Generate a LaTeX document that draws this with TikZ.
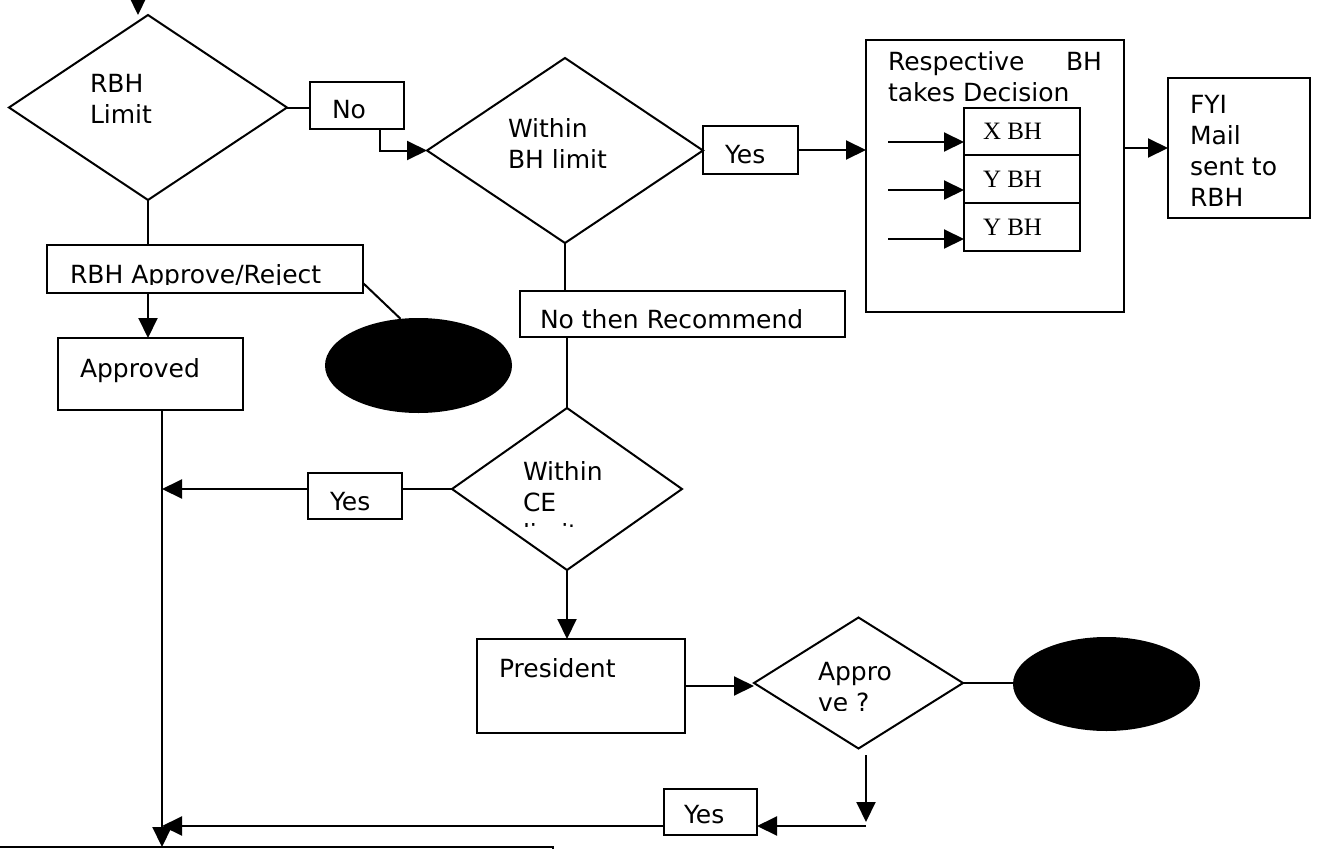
\documentclass[tikz,border=0pt]{standalone}
\usepackage{fontspec}
\setmainfont{DejaVu Sans}
\newfontfamily\serifF{Liberation Serif}
\usetikzlibrary{shapes.geometric,arrows.meta}
\begin{document}
\begin{tikzpicture}[x=1pt,y=-1pt,
  ln/.style={line width=2pt},
  arr/.style={line width=2pt,-{Triangle[length=20pt,width=19pt]}},
  box/.style={draw,line width=2pt,rectangle,inner sep=0pt,outer sep=0pt},
  dia/.style={draw,line width=2pt,diamond,inner sep=0pt,outer sep=0pt},
  blob/.style={ellipse,fill=black,inner sep=0pt,outer sep=0pt},
  txt/.style={anchor=base west,inner sep=0pt,outer sep=0pt,font=\fontsize{25}{31}\selectfont},
  stxt/.style={anchor=base west,inner sep=0pt,outer sep=0pt,font=\serifF\fontsize{25}{30}\selectfont}]
\useasboundingbox[fill=white] (0,0) rectangle (1318,849);

% shapes
\node[dia,minimum width=278pt,minimum height=185pt] (d1) at (148,107.5) {};
\node[box,minimum width=94pt,minimum height=47pt] (no) at (357,105.5) {};
\node[dia,minimum width=276pt,minimum height=185pt] (d2) at (565,150.5) {};
\node[box,minimum width=95pt,minimum height=48pt] (yes1) at (750.5,150) {};
\node[box,minimum width=258pt,minimum height=272pt] (big) at (995,176) {};
\node[box,minimum width=116pt,minimum height=47pt] (xbh) at (1022,131.5) {};
\node[box,minimum width=116pt,minimum height=48pt] (ybh1) at (1022,179) {};
\node[box,minimum width=116pt,minimum height=48pt] (ybh2) at (1022,227) {};
\node[box,minimum width=142pt,minimum height=140pt] (fyi) at (1239,148) {};
\node[box,minimum width=316pt,minimum height=48pt] (rbh) at (205,269) {};
\node[box,minimum width=185pt,minimum height=72pt] (appr) at (150.5,374) {};
\node[blob,minimum width=187pt,minimum height=95pt] (ell1) at (418.5,365.5) {};
\node[box,minimum width=325pt,minimum height=46pt] (rec) at (682.5,314) {};
\node[dia,minimum width=230pt,minimum height=162pt] (d3) at (567,489) {};
\node[box,minimum width=94pt,minimum height=46pt] (yes2) at (355,496) {};
\node[box,minimum width=208pt,minimum height=94pt] (pres) at (581,686) {};
\node[dia,minimum width=209pt,minimum height=131pt] (d4) at (858.5,683) {};
\node[blob,minimum width=187pt,minimum height=94pt] (ell2) at (1106.5,684) {};
\node[box,minimum width=93pt,minimum height=46pt] (yes3) at (710.5,812) {};
\node[box,minimum width=560pt,minimum height=30pt] (bot) at (273,862) {};

% texts
\node[txt] (t1) at (90,92) {\vtop{\hbox{RBH}\hbox{Limit}}};
\node[txt] (t2) at (332,118) {No};
\node[txt] (t3) at (508,137) {\vtop{\hbox{Within}\hbox{BH limit}}};
\node[txt] (t4) at (725,163) {Yes};
\node[txt] (t5) at (888,70) {\vtop{\hbox to 214pt{Respective\hfill BH}\hbox{takes Decision}}};
\node[stxt] (t6) at (983,139) {X BH};
\node[stxt] (t7) at (983,187) {Y BH};
\node[stxt] (t8) at (983,235) {Y BH};
\node[txt] (t9) at (1190,113) {\vtop{\hbox{FYI}\hbox{Mail}\hbox{sent to}\hbox{RBH}}};
\begin{scope}
  \clip (60,250) rectangle (350,284);
  \node[txt] (t10) at (70,283) {RBH Approve/Reject};
\end{scope}
\node[txt] (t11) at (80,377) {Approved};
\node[txt] (t12) at (540,328) {No then Recommend};
\begin{scope}
  \clip (500,440) rectangle (640,526);
  \node[txt] (t13) at (523,480) {\vtop{\hbox{Within}\hbox{CE}\hbox{limit}}};
\end{scope}
\node[txt] (t14) at (330,510) {Yes};
\node[txt] (t15) at (499,677) {President};
\begin{scope}
  \clip (800,640) rectangle (920,710);
  \node[txt] (t16) at (818,680) {\vtop{\hbox{Appro}\hbox{ve ?}}};
\end{scope}
\node[txt] (t17) at (684,823) {Yes};

% connectors
\coordinate (topsrc) at (138,-20);
\draw[arr] (topsrc) -- (topsrc |- d1.north);
\draw[ln] (d1.east) -- (d1.east -| no.west);
\draw[arr] ([xshift=23pt]no.south) |- (d2.west);
\draw[arr] (yes1.east) -- (yes1.east -| big.west);
\draw[arr] (big.east |- fyi.west) -- (fyi.west);
\coordinate (a1) at (888,142);
\coordinate (a2) at (888,190);
\coordinate (a3) at (888,239);
\draw[arr] (a1) -- (a1 -| xbh.west);
\draw[arr] (a2) -- (a2 -| xbh.west);
\draw[arr] (a3) -- (a3 -| xbh.west);
\draw[ln] (d1.south) -- (d1.south |- rbh.north);
\draw[arr] (d1.south |- rbh.south) -- (d1.south |- appr.north);
\draw[ln] ([yshift=-14pt]rbh.east) -- (ell1.111);
\coordinate (vx) at (162,0);
\draw[arr] (appr.south -| vx) -- (vx |- bot.north);
\draw[ln] (d3.west) -- (d3.west -| yes2.east);
\draw[arr] (d3.west -| yes2.west) -- (d3.west -| vx);
\draw[ln] (d2.south) -- (d2.south |- rec.north);
\draw[ln] (d3.north |- rec.south) -- (d3.north);
\draw[arr] (d3.south) -- (d3.south |- pres.north);
\draw[arr] (pres.east) -- (pres.east -| d4.west);
\draw[ln] (d4.east) -- (d4.east -| ell2.west);
\coordinate (v1) at (866,755);
\coordinate (v2) at (866,822);
\coordinate (h1) at (866,826);
\draw[arr] (v1) -- (v2);
\draw[arr] (h1) -- (h1 -| yes3.east);
\draw[arr] (h1 -| yes3.west) -- (h1 -| vx);
\end{tikzpicture}
\end{document}
